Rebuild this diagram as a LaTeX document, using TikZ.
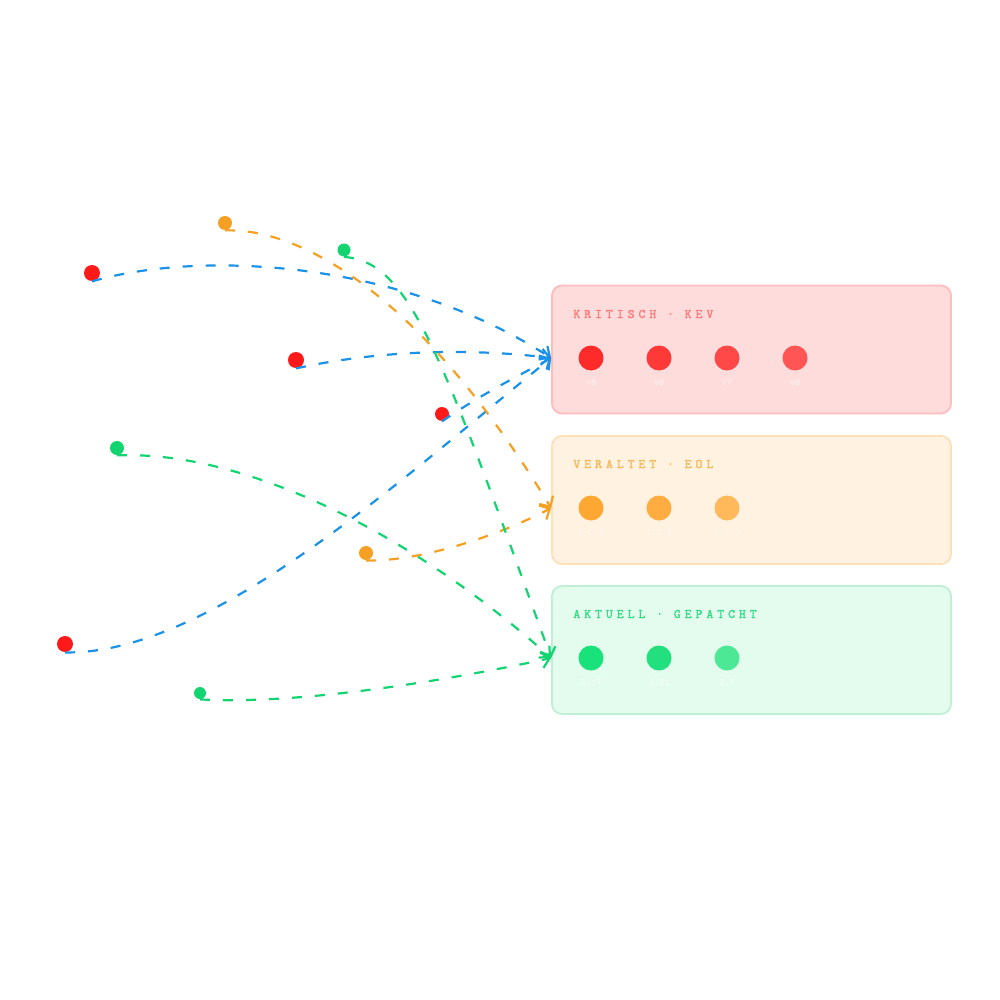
\documentclass[tikz,border=0pt]{standalone}
\usepackage{fontspec}
\usetikzlibrary{arrows.meta}

\newfontfamily\headfont{lmmono10-regular.otf}[LetterSpace=31,FakeBold=1.8]
\newfontfamily\verfont{lmmono10-regular.otf}

\definecolor{kevred}{HTML}{FF1A1A}
\definecolor{eolorange}{HTML}{F5A023}
\definecolor{okgreen}{HTML}{12D471}
\definecolor{linkblue}{HTML}{1A92E8}
\definecolor{kevfill}{HTML}{FFDCDC}
\definecolor{kevline}{HTML}{FFBCBF}
\definecolor{eolfill}{HTML}{FFF2E1}
\definecolor{eolline}{HTML}{FDE0B6}
\definecolor{okfill}{HTML}{E3FCEE}
\definecolor{okline}{HTML}{BFF0D6}

\begin{document}
\begin{tikzpicture}[x=0.5pt,y=-0.5pt,
		dot/.style={circle,inner sep=0pt,minimum size=#1},
		box/.style={draw,rounded corners=5pt,line width=0.9pt,minimum width=199.5pt,minimum height=64pt,inner sep=0pt},
		title/.style={anchor=base west,inner sep=0pt,font=\headfont\fontsize{6.5}{7}\selectfont},
		ver/.style={inner sep=0pt,text=white,text opacity=0.75,font=\verfont\fontsize{5}{6}\selectfont},
		link/.style={draw=#1,line width=1.1pt,dash pattern=on 5pt off 6.5pt,-{Straight Barb[length=4pt,width=8pt]}}]
		
		\useasboundingbox[fill=white] (0,0) rectangle (1000,1000);
		
		% groups on the right
		\node[box,draw=kevline,fill=kevfill] (rbox) at (751.5,349.5) {};
		\node[box,draw=eolline,fill=eolfill] (obox) at (751.5,500) {};
		\node[box,draw=okline,fill=okfill] (gbox) at (751.5,650) {};
		
		\node[title,text=red!52] (rtitle) at (573,318) {KRITISCH · KEV};
		\node[title,text=eolorange!75] (otitle) at (573,468) {VERALTET · EOL};
		\node[title,text=okgreen!85] (gtitle) at (573,618) {AKTUELL · GEPATCHT};
		
		\node[dot=12.5pt,fill={rgb,255:red,255;green,42;blue,42}] (r1) at (591,358) {};
		\node[dot=12.5pt,fill={rgb,255:red,255;green,56;blue,56}] (r2) at (659,358) {};
		\node[dot=12.5pt,fill={rgb,255:red,255;green,72;blue,72}] (r3) at (727,358) {};
		\node[dot=12.5pt,fill={rgb,255:red,255;green,85;blue,85}] (r4) at (795,358) {};
		\node[dot=12.5pt,fill={rgb,255:red,255;green,167;blue,51}] (o1) at (591,508) {};
		\node[dot=12.5pt,fill={rgb,255:red,255;green,173;blue,64}] (o2) at (659,508) {};
		\node[dot=12.5pt,fill={rgb,255:red,255;green,184;blue,90}] (o3) at (727,508) {};
		\node[dot=12.5pt,fill={rgb,255:red,25;green,226;blue,122}] (g1) at (591,658) {};
		\node[dot=12.5pt,fill={rgb,255:red,34;green,224;blue,126}] (g2) at (659,658) {};
		\node[dot=12.5pt,fill={rgb,255:red,76;green,232;blue,149}] (g3) at (727,658) {};
		
		\node[ver] at (591,382) {v8};
		\node[ver] at (659,382) {v8};
		\node[ver] at (727,382) {v7};
		\node[ver] at (795,382) {v8};
		\node[ver] at (591,532) {1.0.2};
		\node[ver] at (659,532) {1.0.2};
		\node[ver] at (727,532) {1.1.0};
		\node[ver] at (591,682) {3.17};
		\node[ver] at (659,682) {3.21};
		\node[ver] at (727,682) {2.7};
		
		% scattered findings
		\node[dot=8pt,fill=kevred] (a) at (92,273) {};
		\node[dot=7pt,fill=eolorange] (b) at (225,223) {};
		\node[dot=6.5pt,fill=okgreen] (c) at (344,250) {};
		\node[dot=8pt,fill=kevred] (d) at (296,360) {};
		\node[dot=7pt,fill=kevred] (e) at (442,414) {};
		\node[dot=7pt,fill=okgreen] (f) at (117,448) {};
		\node[dot=7pt,fill=eolorange] (g) at (366,553) {};
		\node[dot=8pt,fill=kevred] (h) at (65,644) {};
		\node[dot=6pt,fill=okgreen] (i) at (200,693) {};
		
		\draw[link=linkblue] (a.south) .. controls (200,250) and (400,260) .. (rbox.west |- r1);
		\draw[link=linkblue] (d.south) .. controls (380,350) and (470,348) .. (rbox.west |- r1);
		\draw[link=linkblue] (e.south) .. controls (480,395) and (520,375) .. (rbox.west |- r1);
		\draw[link=linkblue] (h.south) .. controls (210,655) and (400,480) .. (rbox.west |- r1);
		\draw[link=eolorange] (b.south) .. controls (305,228) and (425,300) .. (obox.west |- o1);
		\draw[link=eolorange] (g.south) .. controls (420,562) and (500,535) .. (obox.west |- o1);
		\draw[link=okgreen] (c.south) .. controls (410,262) and (440,350) .. (gbox.west |- g1);
		\draw[link=okgreen] (f.south) .. controls (250,450) and (420,540) .. (gbox.west |- g1);
		\draw[link=okgreen] (i.south) .. controls (300,705) and (450,680) .. (gbox.west |- g1);
		
\end{tikzpicture}
\end{document}
